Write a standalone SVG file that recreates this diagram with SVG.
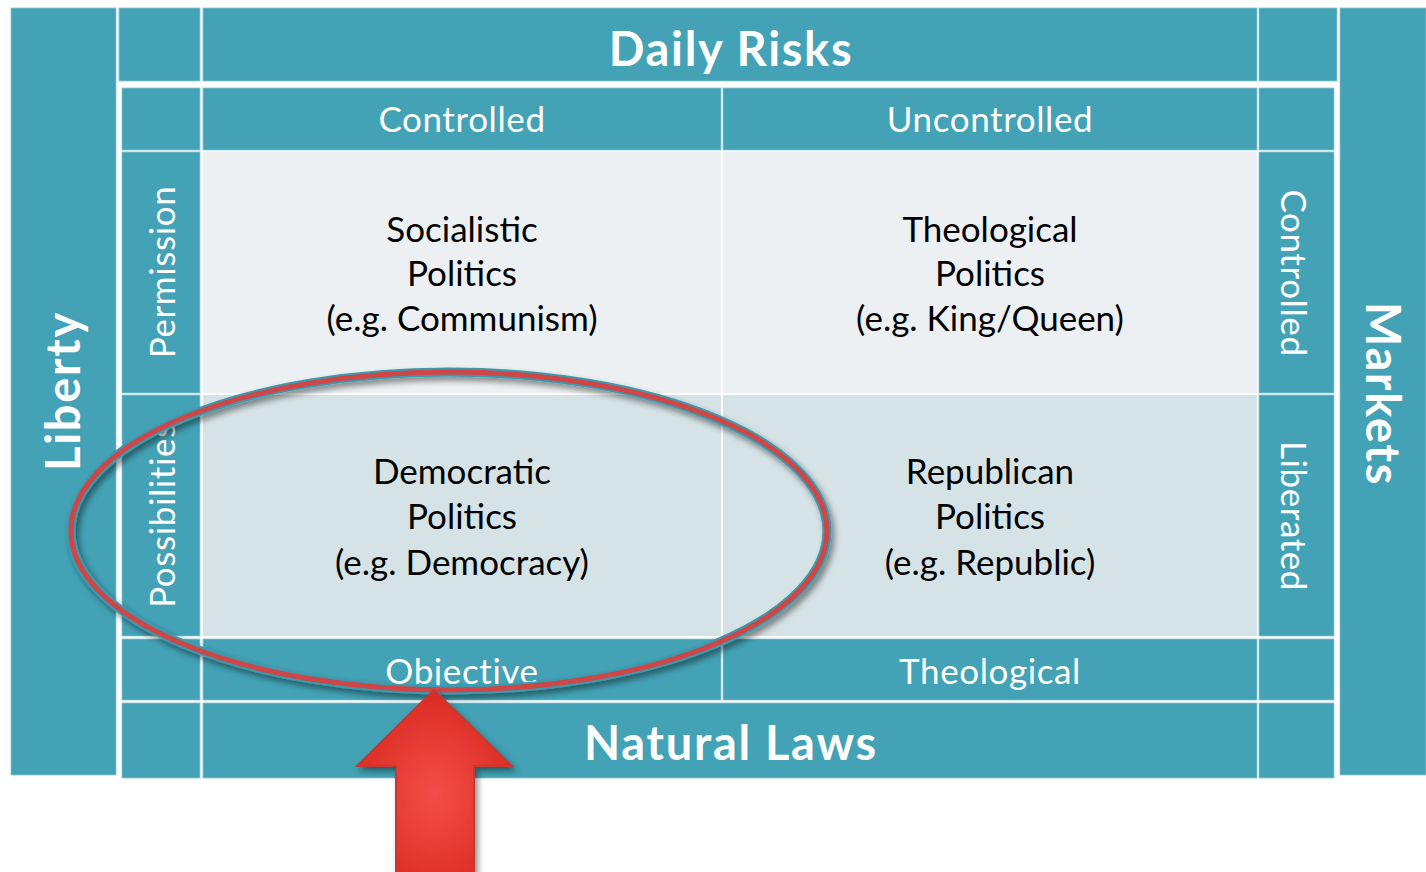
<svg xmlns="http://www.w3.org/2000/svg" width="1426" height="872" viewBox="0 0 1426 872">
<style>
.t{fill:#43A2B6;stroke:#8CC6D2;stroke-width:0.8}
.q1{fill:#ECF0F2}
.q2{fill:#D5E2E6}
.w{fill:#fff;font-family:Lato,"Open Sans",sans-serif}
.k{fill:#000;font-family:Lato,"Open Sans",sans-serif;font-size:35px;text-anchor:middle}
.hd{font-size:35px;text-anchor:middle;letter-spacing:0.6px}
.big{font-size:47px;text-anchor:middle;font-weight:bold;letter-spacing:1.7px}
</style>
<defs>
<filter id="sh" x="-10%" y="-10%" width="120%" height="130%">
<feGaussianBlur in="SourceAlpha" stdDeviation="3"/>
<feOffset dx="3" dy="4"/>
<feComponentTransfer><feFuncA type="linear" slope="0.45"/></feComponentTransfer>
<feMerge><feMergeNode/><feMergeNode in="SourceGraphic"/></feMerge>
</filter>
<radialGradient id="ag" cx="0.5" cy="0.55" r="0.6">
<stop offset="0" stop-color="#F34E48"/>
<stop offset="1" stop-color="#D8281E"/>
</radialGradient>
</defs>
<rect width="1426" height="872" fill="#fff"/>
<g id="liberty"><rect class="t" x="11" y="8" width="105" height="767"/><text class="w big" transform="translate(80,391) rotate(-90)">Liberty</text></g>
<g id="markets"><rect class="t" x="1340" y="8" width="86" height="767"/><text class="w big" transform="translate(1366,394) rotate(90)">Markets</text></g>
<g id="top-row">
<rect class="t" x="119" y="8" width="81" height="73"/>
<rect class="t" x="203" y="8" width="1054" height="73"/>
<rect class="t" x="1259" y="8" width="78" height="73"/>
<text class="w big" x="731" y="66">Daily Risks</text>
</g>
<g id="header-row">
<rect class="t" x="122" y="88" width="78" height="62"/>
<rect class="t" x="203" y="88" width="518" height="62"/>
<rect class="t" x="723" y="88" width="534" height="62"/>
<rect class="t" x="1259" y="88" width="75" height="62"/>
<text class="w hd" x="462" y="132">Controlled</text>
<text class="w hd" x="990" y="132">Uncontrolled</text>
</g>
<g id="row-labels">
<rect class="t" x="122" y="152" width="78" height="241"/>
<rect class="t" x="122" y="395" width="78" height="241"/>
<rect class="t" x="1259" y="152" width="75" height="241"/>
<rect class="t" x="1259" y="395" width="75" height="241"/>
<text class="w hd" transform="translate(175,272) rotate(-90)">Permission</text>
<text class="w hd" transform="translate(175,515) rotate(-90)">Possibilities</text>
<text class="w hd" transform="translate(1281,273) rotate(90)">Controlled</text>
<text class="w hd" transform="translate(1281,516) rotate(90)">Liberated</text>
</g>
<g id="socialistic"><rect class="q1" x="203" y="152" width="518" height="241"/>
<text class="k" x="462" y="242">Socialistic</text><text class="k" x="462" y="286">Politics</text><text class="k" x="462" y="331">(e.g. Communism)</text></g>
<g id="theological"><rect class="q1" x="723" y="152" width="534" height="241"/>
<text class="k" x="990" y="242">Theological</text><text class="k" x="990" y="286">Politics</text><text class="k" x="990" y="331">(e.g. King/Queen)</text></g>
<g id="democratic"><rect class="q2" x="203" y="395" width="518" height="241"/>
<text class="k" x="462" y="484">Democratic</text><text class="k" x="462" y="529">Politics</text><text class="k" x="462" y="575">(e.g. Democracy)</text></g>
<g id="republican"><rect class="q2" x="723" y="395" width="534" height="241"/>
<text class="k" x="990" y="484">Republican</text><text class="k" x="990" y="529">Politics</text><text class="k" x="990" y="575">(e.g. Republic)</text></g>
<g id="footer-row">
<rect class="t" x="122" y="639" width="78" height="61"/>
<rect class="t" x="203" y="639" width="518" height="61"/>
<rect class="t" x="723" y="639" width="534" height="61"/>
<rect class="t" x="1259" y="639" width="75" height="61"/>
<text class="w hd" x="462" y="684">Objective</text>
<text class="w hd" x="990" y="684">Theological</text>
</g>
<g id="bottom-row">
<rect class="t" x="122" y="703" width="78" height="75"/>
<rect class="t" x="203" y="703" width="1054" height="75"/>
<rect class="t" x="1259" y="703" width="75" height="75"/>
<text class="w big" x="731" y="760">Natural Laws</text>
</g>
<g id="ellipse" filter="url(#sh)">
<ellipse cx="449" cy="531" rx="378" ry="159" fill="none" stroke="#3E9AAE" stroke-width="9"/>
<ellipse cx="449" cy="531" rx="378" ry="159" fill="none" stroke="#D04444" stroke-width="5"/>
</g>
<g id="arrow" filter="url(#sh)">
<path d="M434,690 L512,766 L474,766 L474,880 L396,880 L396,766 L357,766 Z" fill="url(#ag)" stroke="#C23A33" stroke-width="2" stroke-linejoin="miter"/>
</g>
</svg>
